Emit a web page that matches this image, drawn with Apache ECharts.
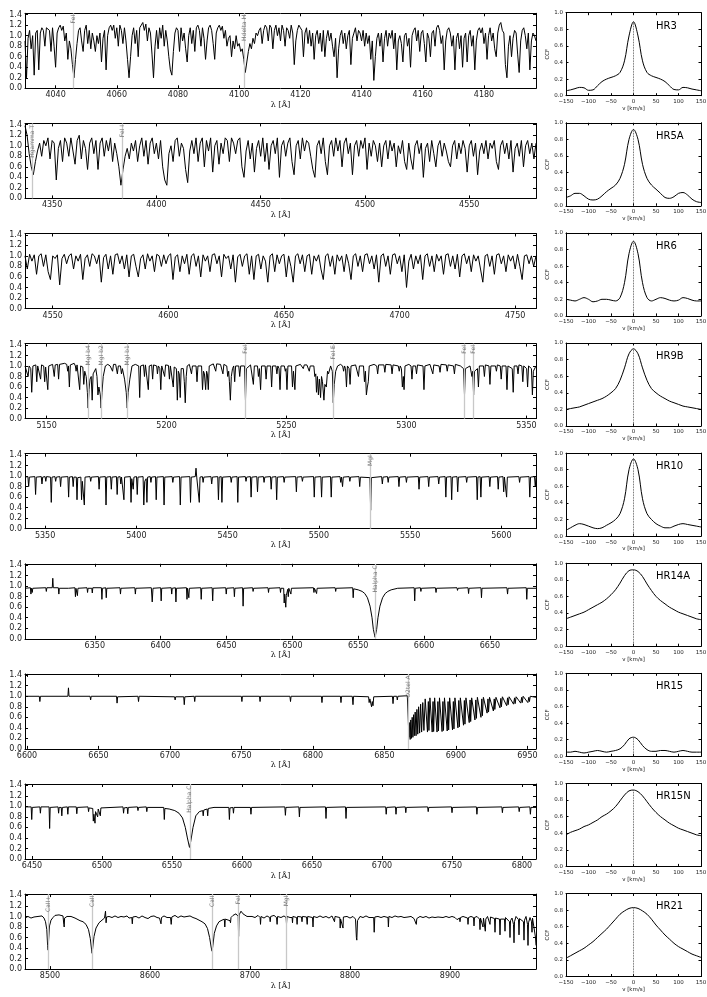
<!DOCTYPE html>
<html>
<head>
<meta charset="utf-8">
<script src="https://cdn.jsdelivr.net/npm/echarts@6/dist/echarts.min.js"></script>
<style>
html,body{margin:0;padding:0;background:#fff;}
#chart{width:707px;height:997px;}
</style>
</head>
<body>
<div id="chart"></div>
<script>
// ---------------- data ----------------
// dense spectra sampled on a regular grid (start, step, flux values)
var hr3Start = 4030, hr3Step = 0.5;
var hr3Flux = [
  0.9,0.2,0.95,1.1,0.75,1.0,0.25,1.05,1.1,0.35,1.05,1.15,1.1,0.8,1.15,1.18,1.1,0.7,1.15,0.8,
  0.4,1.05,1.15,1.2,1.1,1.18,0.9,1.05,0.55,0.9,0.75,0.45,0.2,0.55,0.85,1.1,1.15,0.9,0.7,1.1,
  1.2,0.85,1.1,0.75,1.05,0.9,0.7,1.0,0.85,1.05,0.5,0.95,1.1,0.35,1.0,1.15,1.2,1.1,1.2,0.95,
  1.15,0.8,1.2,1.1,0.85,1.15,0.9,0.55,0.2,0.6,1.0,1.15,0.85,1.1,0.6,1.15,1.2,1.25,1.1,1.22,
  0.9,1.15,1.05,0.65,0.2,0.8,1.1,0.75,1.15,0.95,1.2,0.8,1.1,0.9,0.6,0.35,0.25,0.7,1.05,1.15,
  1.1,0.7,1.15,0.9,1.05,0.75,0.5,1.0,1.15,0.85,1.1,0.7,1.15,1.2,1.1,0.8,1.15,0.95,0.55,0.9,
  1.15,1.2,1.1,0.85,0.55,1.05,1.15,1.2,1.1,1.18,0.95,1.1,0.8,0.95,1.0,0.6,0.9,0.75,1.0,0.8,
  0.85,0.7,0.75,0.55,0.3,0.5,0.7,0.85,0.75,0.95,0.85,1.05,1.0,1.1,1.15,0.85,1.1,1.2,1.15,0.9,
  1.2,1.15,0.75,1.1,1.2,1.0,1.15,0.9,1.2,1.1,0.8,1.15,1.1,0.95,1.2,1.05,0.45,0.9,1.1,1.2,
  1.15,1.1,0.6,1.05,1.15,0.85,1.1,0.8,1.05,0.55,1.0,1.1,0.85,1.05,0.7,1.1,0.6,0.95,1.1,0.9,
  1.05,0.8,0.6,0.95,0.2,0.75,1.0,1.1,0.85,1.05,0.75,1.0,1.1,0.45,0.95,1.05,1.15,0.9,1.1,1.05,
  0.9,1.1,0.8,1.05,0.85,1.0,0.55,0.9,0.15,0.6,0.95,1.05,0.8,1.05,0.5,0.95,1.1,0.8,1.05,0.95,
  1.1,0.75,1.05,0.35,0.9,1.0,0.85,0.5,1.0,1.05,0.8,0.95,0.4,1.0,1.1,1.15,0.9,1.1,0.7,1.05,
  1.1,0.85,0.5,1.05,0.95,0.6,1.05,1.1,0.8,1.15,1.2,1.1,0.85,1.0,0.35,0.9,1.1,1.15,1.05,0.8,
  1.0,0.35,0.95,1.05,0.75,1.0,0.4,0.95,1.05,0.5,1.0,1.1,0.8,1.0,0.35,0.9,1.1,1.15,1.05,1.15,
  0.85,1.05,0.55,1.0,1.15,0.9,1.05,0.75,0.6,1.05,1.2,1.25,1.1,1.05,0.45,0.2,0.8,1.0,0.6,0.95,
  1.1,1.05,0.65,0.3,0.9,1.1,1.15,1.0,0.75,1.05,0.35,0.9,1.05,1.0,0.9];

var hr5aStart = 4337, hr5aStep = 1;
var hr5aFlux = [
  1.38,1.2,0.85,0.6,0.45,0.7,0.9,1.05,0.8,1.1,  1.0,1.15,0.75,1.1,1.05,0.35,0.95,1.1,0.7,1.15,
  1.05,0.8,1.15,0.9,0.65,1.1,1.2,0.75,1.1,0.95, 0.55,1.05,1.15,0.85,1.1,0.55,1.05,1.15,0.8,1.1,
  0.9,1.15,0.7,1.05,0.85,0.6,0.25,0.55,0.8,0.95, 0.75,1.05,0.9,1.1,0.7,1.0,1.15,0.8,1.1,0.65,
  1.05,1.15,0.85,1.05,0.75,1.1,0.6,0.35,0.25,0.85, 1.0,0.7,1.1,1.15,0.8,1.05,0.95,0.55,0.3,0.9,
  1.1,0.85,1.15,0.7,1.05,1.15,0.6,1.1,0.9,1.15,  0.5,1.0,1.1,0.65,1.05,0.85,1.15,1.1,0.7,1.15,
  1.05,0.85,1.1,1.15,0.6,0.4,0.9,1.1,0.75,1.05,  0.5,0.95,1.1,0.8,1.15,0.7,1.05,0.55,1.0,1.1,
  0.85,1.15,0.4,1.0,1.1,0.8,1.05,1.15,0.7,0.45,  1.0,1.1,0.75,1.15,0.9,1.1,1.05,0.8,0.55,0.4,
  1.0,1.1,0.85,1.15,0.7,0.45,1.0,1.1,0.8,1.15,   0.9,1.1,0.6,1.05,1.15,0.85,1.05,0.45,1.0,1.1,
  0.8,1.1,0.95,1.15,0.55,1.05,0.8,1.1,1.0,0.7,   1.05,0.6,1.0,1.1,0.75,1.1,0.9,1.05,0.6,1.0,
  0.85,1.1,0.7,0.55,1.05,0.75,0.55,1.0,1.1,0.85, 1.05,0.4,0.95,1.05,0.7,1.1,0.85,0.6,1.0,1.1,
  0.8,1.05,0.9,0.7,0.6,1.0,1.1,0.75,1.05,0.85,   1.1,0.95,0.5,1.0,1.1,0.8,1.05,0.45,0.9,1.05,
  0.85,1.1,0.75,1.05,0.95,1.1,0.7,0.55,1.0,1.1,  0.85,1.05,0.75,1.1,0.5,0.95,1.05,0.8,1.1,0.6,
  1.0,1.1,0.85,1.05,0.75,1.05];

var hr6Start = 4538, hr6Step = 1;
var hr6Flux = [
  1.0,0.75,1.03,0.9,1.02,0.65,1.0,1.04,0.8,1.02,  0.7,0.55,1.0,0.95,1.02,0.45,0.95,1.03,0.85,1.0,
  1.04,0.75,1.0,0.9,1.03,0.55,0.95,1.02,0.8,1.04, 1.0,0.85,1.02,0.5,0.97,1.03,0.75,1.0,0.65,1.02,
  1.04,0.85,1.0,0.75,1.02,0.6,1.0,1.03,0.8,0.6,   0.95,1.02,0.75,1.04,0.9,1.0,0.7,1.03,1.0,0.8,
  1.02,0.85,1.0,1.04,0.55,0.98,1.02,0.7,1.0,0.85, 1.03,0.65,1.0,1.04,0.8,1.0,0.6,1.02,0.9,1.0,
  0.7,1.02,1.04,0.85,1.0,0.6,1.03,0.95,1.0,0.75,  1.02,0.5,0.98,1.03,0.8,1.0,1.04,0.65,1.0,0.55,
  1.0,1.03,0.75,1.0,0.9,0.5,1.0,1.04,0.7,1.02,    0.85,1.0,1.03,0.6,1.0,0.8,0.5,1.0,1.04,0.85,
  1.02,0.7,1.0,1.03,0.65,1.0,0.9,1.02,0.75,0.55,  1.0,1.04,0.8,1.0,0.65,1.02,0.9,1.0,0.7,1.03,
  0.85,0.55,1.0,1.04,0.8,1.0,0.7,1.02,1.04,0.85,  1.0,0.75,1.02,0.5,1.0,1.04,0.8,1.0,0.65,1.02,
  1.04,0.85,1.0,0.7,1.02,0.4,0.9,1.03,0.75,1.0,   0.85,1.02,0.55,1.0,1.04,0.8,1.0,0.7,1.03,0.9,
  1.0,0.65,1.02,1.04,0.8,1.0,0.75,1.03,0.6,1.0,   1.04,0.85,1.0,0.7,1.02,0.9,1.0,0.75,0.5,1.0,
  1.03,0.8,1.0,0.65,1.02,1.04,0.85,1.0,0.7,1.02,  0.9,1.0,0.75,1.03,0.8,0.55,1.0,1.02,0.85,1.0,
  0.8,1.0];

// sparser spectra given as [wavelength, flux] points
var hr9bFlux = [[5141,1.0],[5141.8,1.02],[5142.3,0.8],[5142.7,1.0],[5143.4,0.95],[5143.8,0.5],[5144.3,1.0],[5145.5,1.02],[5145.9,0.7],[5146.3,1.0],[5147.1,1.01],[5147.5,0.75],[5147.9,1.02],[5148.8,1.0],[5149.2,0.7],[5149.6,0.98],[5150.1,1.0],[5150.5,0.55],[5150.9,1.0],[5152.5,1.03],[5152.9,1.0],[5153.2,0.8],[5153.6,1.02],[5154.6,1.03],[5155,0.75],[5155.4,1.03],[5157.5,1.05],[5158.4,1.03],[5158.8,0.9],[5159.1,1.0],[5159.5,0.6],[5159.9,1.02],[5161.5,1.05],[5162,1.0],[5162.3,0.9],[5162.7,1.02],[5163.4,1.0],[5163.8,0.55],[5164.2,1.0],[5165.1,0.98],[5165.5,0.65],[5165.9,0.9],[5166.5,0.8],[5167.0,0.5],[5167.3,0.2],[5167.7,0.55],[5168.1,0.75],[5168.6,0.8],[5169.0,0.35],[5169.4,0.85],[5170.5,0.95],[5171.0,0.8],[5171.4,0.45],[5171.8,0.6],[5172.4,0.45],[5172.7,0.2],[5173.1,0.5],[5173.6,0.8],[5174.5,1.0],[5175.5,1.03],[5176.5,1.0],[5177.1,1.0],[5177.5,0.9],[5177.9,1.03],[5178.8,1.03],[5179.2,1.0],[5179.5,0.85],[5179.9,1.0],[5180.8,1.0],[5181.2,0.85],[5181.6,0.95],[5182.5,0.75],[5183.2,0.5],[5183.6,0.2],[5184,0.5],[5184.7,0.75],[5185.6,1.0],[5187,1.03],[5188.4,1.0],[5188.8,0.4],[5189.2,1.0],[5190.4,1.02],[5190.8,0.8],[5191.2,1.02],[5192,1.0],[5192.4,0.55],[5192.8,1.0],[5193.8,1.02],[5194.2,0.75],[5194.6,1.02],[5195.9,1.0],[5196.2,0.85],[5196.6,1.0],[5197.2,0.95],[5197.6,0.55],[5198,1.0],[5198.8,1.02],[5199.2,0.8],[5199.6,1.02],[5200.8,1.01],[5201.2,0.75],[5201.6,1.0],[5202.4,1.0],[5202.8,0.6],[5203.2,0.98],[5204.1,0.95],[5204.5,0.35],[5204.9,0.9],[5205.3,0.85],[5205.7,0.4],[5206.1,0.95],[5207.0,0.95],[5207.4,0.7],[5207.8,0.3],[5208.2,0.8],[5208.6,1.0],[5209.5,1.03],[5210.0,1.0],[5210.4,0.85],[5210.8,1.0],[5212.3,1.0],[5212.7,0.7],[5213.1,1.0],[5214.6,1.0],[5215.0,0.55],[5215.4,0.9],[5215.8,0.85],[5216.3,0.55],[5216.7,0.9],[5217.0,0.85],[5217.4,0.55],[5217.8,1.0],[5219.5,1.04],[5220.1,1.02],[5220.5,0.9],[5220.9,1.04],[5222.5,1.03],[5223.1,1.02],[5223.5,0.85],[5223.9,1.03],[5225.1,1.0],[5225.5,0.8],[5225.9,0.9],[5226.2,0.7],[5226.6,0.35],[5227,0.8],[5227.5,0.95],[5228.0,1.0],[5228.4,0.7],[5228.8,1.0],[5230.1,1.0],[5230.5,0.8],[5230.9,1.0],[5232.5,1.0],[5232.9,0.35],[5233.3,0.95],[5235,1.02],[5235.8,1.0],[5236.2,0.65],[5236.6,1.0],[5237.9,1.0],[5238.3,0.8],[5238.7,0.95],[5239.2,0.55],[5239.6,1.0],[5241.1,1.0],[5241.5,0.75],[5241.9,1.0],[5243.4,1.0],[5243.8,0.6],[5244.2,1.0],[5245.6,1.0],[5246.0,0.85],[5246.4,1.0],[5246.9,0.95],[5247.3,0.55],[5247.7,1.0],[5249.1,1.0],[5249.5,0.9],[5249.8,0.95],[5250.2,0.55],[5250.6,1.0],[5252.1,1.0],[5252.5,0.6],[5252.9,0.9],[5253.5,0.55],[5253.9,1.0],[5255.8,1.03],[5256.6,1.0],[5257,0.95],[5257.4,1.02],[5258.5,1.02],[5259.1,1.0],[5259.5,0.9],[5259.9,1.0],[5261.4,1.0],[5261.8,0.8],[5262.2,0.85],[5262.5,0.5],[5262.9,0.8],[5263.3,0.45],[5263.7,0.75],[5264.2,0.4],[5264.6,0.8],[5265,0.7],[5265.6,0.35],[5266,0.65],[5266.6,0.6],[5267.1,0.9],[5267.5,0.85],[5268.4,1.0],[5269.1,0.9],[5269.5,0.3],[5269.9,0.65],[5270.5,0.9],[5271.3,1.0],[5272.5,1.03],[5273.4,1.0],[5273.8,0.9],[5274.2,1.0],[5274.6,0.95],[5275.0,0.6],[5275.4,1.0],[5276.1,0.95],[5276.5,0.65],[5276.9,1.0],[5278.8,1.02],[5279.6,1.0],[5280,0.8],[5280.4,1.0],[5282.1,1.0],[5282.5,0.7],[5282.9,0.9],[5283.3,0.45],[5283.7,0.6],[5284.1,0.7],[5284.5,1.0],[5286.5,1.03],[5287.6,1.0],[5288,0.85],[5288.4,1.02],[5290.6,1.02],[5291,0.88],[5291.4,1.03],[5293.6,1.02],[5294,0.85],[5294.4,1.02],[5296.6,1.0],[5297,0.9],[5297.4,1.0],[5297.9,0.95],[5298.3,0.6],[5298.7,0.8],[5299,0.55],[5299.4,1.0],[5301,1.03],[5301.9,1.0],[5302.3,0.75],[5302.7,1.0],[5303.8,1.0],[5304.2,0.85],[5304.6,1.02],[5306.9,1.0],[5307.3,0.55],[5307.7,1.0],[5309.8,1.03],[5310.6,1.0],[5311,0.85],[5311.4,1.02],[5313.6,1.0],[5314,0.88],[5314.4,1.03],[5316.6,1.02],[5317,0.9],[5317.4,1.02],[5319.6,1.0],[5320,0.85],[5320.4,1.03],[5322.5,1.0],[5323.8,0.95],[5324.2,0.45],[5324.6,0.95],[5326.5,1.0],[5327.3,0.8],[5327.6,0.9],[5328.0,0.45],[5328.4,0.9],[5329.6,0.95],[5330,0.6],[5330.4,1.0],[5332.1,1.0],[5332.5,0.8],[5332.9,1.02],[5334.4,1.0],[5334.8,0.65],[5335.2,1.0],[5337.1,1.0],[5337.5,0.9],[5337.9,1.02],[5339.1,1.0],[5339.5,0.75],[5339.9,1.0],[5341.5,1.0],[5341.9,0.55],[5342.3,1.0],[5344.1,0.95],[5344.5,0.5],[5344.9,1.0],[5346.1,1.0],[5346.5,0.85],[5346.9,1.02],[5348.1,1.0],[5348.5,0.7],[5348.9,1.0],[5350.1,0.95],[5350.5,0.6],[5350.9,1.0],[5352.1,0.95],[5352.5,0.45],[5352.9,0.9],[5354,1.0]];

var hr10Flux = [[5339,0.98],[5340.6,0.99],[5341,0.8],[5341.4,0.98],[5344.4,0.99],[5344.8,0.65],[5345.2,0.98],[5347.9,0.99],[5348.3,0.85],[5348.7,0.98],[5350,0.99],[5350.4,0.9],[5350.8,0.99],[5353,0.98],[5353.4,0.5],[5353.8,0.98],[5355.4,0.99],[5355.8,0.9],[5356.2,0.98],[5358.1,0.99],[5358.5,0.8],[5358.9,0.98],[5362.5,0.99],[5362.9,0.6],[5363.3,0.98],[5365,0.99],[5365.4,0.8],[5365.8,0.98],[5367.1,0.98],[5367.5,0.55],[5367.9,0.97],[5369.6,0.98],[5370,0.55],[5370.4,0.9],[5371.1,0.9],[5371.5,0.45],[5371.9,0.98],[5374.6,0.99],[5375,0.9],[5375.4,0.98],[5379.2,0.99],[5379.6,0.75],[5380,0.98],[5383,0.99],[5383.4,0.45],[5383.8,0.98],[5385.9,0.99],[5386.3,0.75],[5386.7,0.98],[5389.1,0.99],[5389.5,0.65],[5389.9,0.98],[5391.1,0.99],[5391.5,0.85],[5391.9,0.98],[5392.8,0.99],[5393.2,0.55],[5393.6,0.98],[5396.7,0.99],[5397.1,0.5],[5397.5,0.95],[5397.9,0.97],[5398.3,0.75],[5398.7,0.98],[5400.1,0.99],[5400.5,0.65],[5400.9,0.98],[5403.7,0.99],[5404.1,0.45],[5404.6,0.9],[5405.4,0.95],[5405.8,0.5],[5406.2,0.98],[5407.6,0.99],[5408,0.88],[5408.4,0.98],[5410.5,0.99],[5410.9,0.55],[5411.3,0.98],[5414.8,0.99],[5415.2,0.45],[5415.6,0.98],[5419.6,0.99],[5420,0.88],[5420.4,0.98],[5423.7,0.99],[5424.1,0.45],[5424.5,0.98],[5429.3,0.99],[5429.7,0.5],[5430.1,0.98],[5432.3,0.99],[5432.7,1.15],[5433.1,0.98],[5434.1,0.99],[5434.5,0.5],[5434.9,0.98],[5436.2,0.99],[5436.6,0.88],[5437,0.98],[5440.9,0.99],[5441.3,0.85],[5441.7,0.98],[5444.6,0.99],[5445,0.55],[5445.4,0.98],[5446.5,0.99],[5446.9,0.5],[5447.3,0.98],[5451.6,0.99],[5452,0.88],[5452.4,0.98],[5455.2,0.99],[5455.6,0.5],[5456,0.98],[5459.7,0.99],[5460.1,0.9],[5460.5,0.98],[5462.5,0.99],[5462.9,0.6],[5463.3,0.98],[5466,0.99],[5466.4,0.7],[5466.8,0.98],[5469.6,0.99],[5470,0.88],[5470.4,0.98],[5473.5,0.99],[5473.9,0.75],[5474.3,0.98],[5476.5,0.99],[5476.9,0.55],[5477.3,0.98],[5480.6,0.99],[5481,0.88],[5481.4,0.98],[5487.3,0.99],[5487.7,0.7],[5488.1,0.98],[5490.6,0.99],[5491,0.9],[5491.4,0.98],[5497.1,0.99],[5497.5,0.6],[5497.9,0.98],[5501.1,0.99],[5501.5,0.6],[5501.9,0.98],[5506.4,0.99],[5506.8,0.6],[5507.2,0.98],[5511.6,0.99],[5512,0.88],[5512.4,0.98],[5512.6,0.99],[5513,0.8],[5513.4,0.98],[5516.6,0.99],[5517,0.9],[5517.4,0.98],[5522,0.99],[5522.4,0.8],[5522.8,0.98],[5528,0.97],[5528.4,0.35],[5528.8,0.97],[5534.4,0.99],[5534.8,0.85],[5535.2,0.98],[5537.6,0.99],[5538,0.88],[5538.4,0.98],[5543.5,0.99],[5543.9,0.8],[5544.3,0.98],[5547.6,0.99],[5548,0.88],[5548.4,0.98],[5554.5,0.99],[5554.9,0.75],[5555.3,0.98],[5559.8,0.99],[5560.2,0.8],[5560.6,0.98],[5565.3,0.99],[5565.7,0.85],[5566.1,0.98],[5569.2,0.99],[5569.6,0.6],[5570,0.98],[5572.4,0.99],[5572.8,0.55],[5573.2,0.98],[5575.7,0.99],[5576.1,0.7],[5576.5,0.98],[5580.6,0.99],[5581,0.88],[5581.4,0.98],[5586.4,0.99],[5586.8,0.55],[5587.2,0.98],[5588.4,0.99],[5588.8,0.6],[5589.2,0.98],[5593.3,0.99],[5593.7,0.8],[5594.1,0.98],[5597.9,0.99],[5598.3,0.75],[5598.7,0.98],[5600.9,0.99],[5601.3,0.7],[5601.7,0.98],[5602.5,0.99],[5602.9,0.6],[5603.3,0.98],[5609.6,0.99],[5610,0.88],[5610.4,0.98],[5615.2,0.99],[5615.6,0.6],[5616,0.98],[5618.2,0.99],[5618.6,0.8],[5619,0.98]];

var hr14aFlux = [[6297,0.96],[6301.1,0.97],[6301.5,0.85],[6301.9,0.96],[6302.5,0.88],[6302.9,0.96],[6312.8,0.97],[6313.2,0.9],[6313.6,0.97],[6317.7,0.97],[6318.1,1.15],[6318.5,0.97],[6322.3,0.97],[6322.7,0.85],[6323.1,0.96],[6330,0.96],[6334.9,0.97],[6335.3,0.8],[6335.7,0.96],[6336.5,0.97],[6336.8,0.82],[6337.2,0.96],[6344.1,0.97],[6344.5,0.88],[6344.9,0.96],[6347.7,0.96],[6348.1,0.87],[6348.5,0.97],[6355.0,0.97],[6355.4,0.75],[6355.8,0.96],[6358.3,0.97],[6358.7,0.78],[6359.1,0.96],[6369.1,0.97],[6369.5,0.85],[6369.9,0.96],[6380.4,0.97],[6380.8,0.85],[6381.2,0.96],[6392.9,0.97],[6393.6,0.7],[6394.2,0.96],[6400.0,0.97],[6400.4,0.72],[6400.8,0.96],[6408.0,0.97],[6408.4,0.85],[6408.8,0.96],[6411.2,0.97],[6411.6,0.7],[6412.0,0.96],[6419.6,0.97],[6420,0.75],[6420.4,0.96],[6421,0.97],[6421.4,0.78],[6421.8,0.96],[6430.4,0.97],[6430.8,0.75],[6431.2,0.96],[6439.1,0.97],[6439.5,0.72],[6439.9,0.96],[6449.4,0.97],[6449.8,0.85],[6450.2,0.96],[6455.6,0.97],[6456,0.8],[6456.4,0.96],[6462.2,0.97],[6462.6,0.62],[6463,0.96],[6469.8,0.97],[6470.2,0.9],[6470.6,0.96],[6481.5,0.97],[6481.9,0.88],[6482.3,0.96],[6490.6,0.97],[6491,0.88],[6491.4,0.96],[6493.4,0.96],[6493.8,0.68],[6494.2,0.85],[6494.6,0.88],[6495,0.6],[6495.4,0.82],[6496.5,0.94],[6496.9,0.8],[6497.3,0.96],[6498.5,0.97],[6498.9,0.85],[6499.3,0.96],[6516.0,0.97],[6516.4,0.88],[6516.8,0.96],[6518.0,0.97],[6518.4,0.86],[6518.8,0.96],[6532.5,0.97],[6532.9,0.9],[6533.3,0.96],[6545.8,0.97],[6546.2,0.78],[6546.6,0.95],[6550,0.93],[6553,0.9],[6555,0.86],[6557,0.78],[6559,0.62],[6560.5,0.4],[6561.5,0.18],[6562.8,0.03],[6564,0.18],[6565,0.4],[6566.5,0.62],[6568.5,0.78],[6570.5,0.86],[6572.5,0.9],[6575,0.93],[6580,0.96],[6592.5,0.97],[6592.9,0.72],[6593.3,0.96],[6597.2,0.97],[6597.6,0.9],[6598,0.96],[6608.6,0.97],[6609.1,0.88],[6609.5,0.96],[6625,0.97],[6625.4,0.92],[6625.8,0.96],[6633.4,0.97],[6633.8,0.86],[6634.2,0.96],[6643.2,0.97],[6643.6,0.78],[6644,0.96],[6662.9,0.97],[6663.4,0.85],[6663.8,0.96],[6677.6,0.97],[6678,0.75],[6678.4,0.96],[6685,0.96]];

var hr15Flux = [[6598.6,1.0],[6608.6,1.0],[6609,0.9],[6609.4,1.0],[6628.6,1.0],[6629,1.16],[6629.4,1.0],[6644.1,1.0],[6644.5,0.93],[6644.9,1.0],[6662.6,1.0],[6663,0.87],[6663.4,0.99],[6677.6,1.0],[6678,0.9],[6678.4,1.0],[6703.2,0.99],[6703.6,0.93],[6704,0.99],[6709.6,0.99],[6710,0.84],[6710.4,0.99],[6716.9,1.0],[6717.3,0.9],[6717.7,1.0],[6749.9,1.0],[6750.3,0.9],[6750.7,1.0],[6762.6,1.0],[6763,0.9],[6763.4,1.0],[6783.9,1.0],[6784.3,0.9],[6784.7,1.0],[6805.9,1.0],[6806.3,0.88],[6806.7,1.0],[6819.2,1.0],[6819.6,0.88],[6820,1.0],[6827.5,1.0],[6828,0.84],[6828.4,1.0],[6838.9,0.99],[6839.3,0.88],[6839.8,0.95],[6840.6,0.95],[6841,0.8],[6841.5,0.9],[6842,0.82],[6842.5,0.99],[6855.6,1.0],[6856,0.86],[6856.4,1.0],[6858.6,1.0],[6859,0.93],[6859.4,1.0],[6866,1.01],
  [6866.8,0.45],[6867.2,0.22],[6867.6,0.5],[6868,0.18],[6868.4,0.55],[6868.9,0.2],[6869.4,0.6],[6869.9,0.22],[6870.4,0.65],[6870.9,0.25],[6871.5,0.7],[6872.1,0.25],[6872.7,0.75],[6873.3,0.28],[6873.9,0.8],[6874.6,0.3],[6875.3,0.85],[6876,0.32],[6876.8,0.88],[6877.6,0.35],[6878.5,0.95],[6879.3,0.98],
  [6880.1,0.32],[6880.7,0.9],[6881.1,0.35],[6881.8,0.97],[6883.4,0.32],[6884,0.9],[6884.4,0.33],[6885.1,0.97],[6886.8,0.32],[6887.4,0.9],[6887.8,0.34],[6888.5,0.97],[6890.3,0.33],[6890.9,0.9],[6891.3,0.35],[6892,0.97],[6893.9,0.34],[6894.5,0.9],[6894.9,0.36],[6895.6,0.97],[6897.6,0.36],[6898.2,0.9],[6898.6,0.38],[6899.3,0.97],[6901.4,0.4],[6902,0.92],[6902.4,0.42],[6903.1,0.97],[6905.3,0.45],[6905.9,0.92],[6906.3,0.47],[6907,0.97],[6909.3,0.5],[6909.9,0.93],[6910.3,0.52],[6911,0.97],[6913.3,0.55],[6913.9,0.93],[6914.3,0.58],[6915,0.98],[6917.5,0.6],[6918.1,0.95],[6918.5,0.63],[6919.2,0.98],[6921.8,0.68],[6922.4,0.95],[6922.8,0.7],[6923.5,0.98],[6926.2,0.72],[6926.8,0.95],[6927.2,0.75],[6928,0.98],[6930.8,0.78],[6931.4,0.96],[6931.8,0.8],[6932.5,0.99],[6935.5,0.82],[6936.1,0.97],[6936.5,0.84],[6937.2,0.99],[6940.3,0.85],[6941,0.97],[6941.4,0.86],[6942.1,0.99],[6945.3,0.87],[6946,0.98],[6946.4,0.88],[6947,1.0],[6950.3,0.88],[6951,0.98],[6951.4,0.9],[6952,1.0],[6956,0.98]];

var hr15nFlux = [[6445,0.99],[6449.4,0.99],[6449.8,0.75],[6450.2,0.98],[6455.6,0.99],[6456,0.87],[6456.4,0.99],[6462.2,0.99],[6462.6,0.58],[6463,0.98],[6468.6,0.99],[6469,0.87],[6469.4,0.98],[6470.9,0.98],[6471.3,0.82],[6471.7,0.98],[6475.2,0.99],[6475.6,0.85],[6476,0.99],[6481.6,0.99],[6482,0.86],[6482.4,0.98],[6490,0.99],[6490.4,0.9],[6490.8,0.97],[6493.4,0.96],[6493.8,0.72],[6494.2,0.85],[6494.6,0.85],[6495,0.68],[6495.4,0.9],[6496.5,0.92],[6496.9,0.8],[6497.3,0.95],[6498.4,0.96],[6498.8,0.82],[6499.2,0.97],[6515,0.99],[6515.4,0.87],[6515.8,0.97],[6518,0.98],[6518.4,0.86],[6518.8,0.98],[6525.3,0.99],[6525.7,0.92],[6526.1,0.98],[6531.6,0.99],[6532,0.9],[6532.4,0.98],[6544.1,0.98],[6544.5,0.75],[6544.9,0.96],[6548,0.95],[6552,0.92],[6555,0.87],[6557.5,0.78],[6559.5,0.6],[6561,0.4],[6562.5,0.22],[6563.5,0.35],[6565,0.6],[6567,0.82],[6569.5,0.9],[6571.9,0.92],[6572.3,0.82],[6572.7,0.93],[6575.1,0.95],[6575.5,0.82],[6575.9,0.96],[6580,0.98],[6590.6,0.98],[6591,0.75],[6591.4,0.97],[6593.5,0.98],[6593.9,0.87],[6594.3,0.98],[6606,0.98],[6606.4,0.85],[6606.8,0.98],[6630.6,0.99],[6631,0.83],[6631.4,0.98],[6640.6,0.99],[6641,0.8],[6641.4,0.98],[6659.6,0.99],[6660,0.77],[6660.4,0.98],[6673.9,0.99],[6674.3,0.77],[6674.7,0.98],[6702.6,0.99],[6703,0.85],[6703.4,0.98],[6709.6,0.99],[6710,0.85],[6710.4,0.98],[6716.6,0.99],[6717,0.88],[6717.4,0.98],[6732.6,0.99],[6733,0.9],[6733.4,0.98],[6749.6,0.99],[6750,0.88],[6750.4,0.98],[6767.4,0.99],[6767.8,0.85],[6768.2,0.98],[6785.6,0.99],[6786,0.88],[6786.4,0.98],[6797.6,0.99],[6798,0.9],[6798.4,0.98],[6805.6,0.99],[6806,0.85],[6806.4,0.98],[6810,0.98]];

var hr21Flux = [[8475,0.97],[8478,1.0],[8481,0.97],[8484,0.99],[8486,0.96],[8488,1.0],[8490,0.98],[8492,1.01],[8494,0.97],[8495.5,0.9],[8496.8,0.75],[8497.6,0.45],[8498.1,0.36],[8498.6,0.55],[8499.5,0.82],[8501,0.93],[8503,0.98],[8505,1.02],[8507,0.99],[8509,1.03],[8511,1.0],[8513,1.01],[8513.8,0.85],[8514.2,0.8],[8514.6,0.97],[8517,1.0],[8519,0.98],[8521,1.0],[8523,0.97],[8525,0.97],[8527,0.95],[8530,0.92],[8533,0.9],[8536,0.85],[8538.5,0.75],[8540.3,0.58],[8541.5,0.38],[8542.1,0.3],[8542.8,0.42],[8544,0.62],[8546,0.78],[8549,0.88],[8552,0.93],[8554.5,0.97],[8555.5,1.1],[8556.1,0.88],[8556.6,0.99],[8559,1.0],[8562,0.98],[8565,1.01],[8568,0.98],[8571,1.0],[8574,0.99],[8577,1.01],[8579,0.97],[8581.8,0.98],[8582.3,0.86],[8582.8,0.99],[8586,1.0],[8589,0.97],[8592,1.01],[8595,0.98],[8598,0.96],[8601,1.0],[8604,1.01],[8607,0.98],[8609.5,0.97],[8611,0.86],[8611.5,0.98],[8614,1.01],[8617,0.98],[8620.5,0.98],[8621.2,0.85],[8621.8,0.99],[8625,1.02],[8628,0.98],[8631,1.01],[8634,0.99],[8637,1.0],[8640,1.01],[8643,0.98],[8646,0.96],[8649,0.93],[8652,0.9],[8655,0.86],[8657.5,0.77],[8659.6,0.6],[8661.3,0.4],[8662.1,0.34],[8662.9,0.45],[8664.3,0.68],[8666.5,0.82],[8669,0.9],[8672,0.93],[8674.3,0.95],[8674.8,0.8],[8675.3,0.95],[8677,0.97],[8680,0.92],[8680.5,0.88],[8681,0.98],[8683,1.02],[8686,1.05],[8688.2,1.0],[8688.6,0.62],[8689.1,1.03],[8691,1.1],[8693,1.05],[8695,1.07],[8697,1.0],[8699,1.03],[8702,1.0],[8705,0.98],[8708,1.02],[8710.1,0.98],[8710.5,0.85],[8711,1.0],[8714,0.97],[8717,1.01],[8719.7,0.98],[8720.2,0.9],[8720.7,1.0],[8724,1.02],[8726.5,0.98],[8727.1,0.85],[8727.6,1.0],[8731,0.98],[8734,1.01],[8736.1,0.98],[8736.5,0.86],[8737,1.0],[8740,0.98],[8742.1,0.98],[8742.5,0.88],[8742.9,1.0],[8746.6,0.98],[8747.1,0.85],[8747.6,1.0],[8751.5,0.99],[8752,0.9],[8752.5,1.0],[8756.5,0.99],[8757.2,0.85],[8757.7,1.0],[8762.5,0.98],[8763,0.8],[8763.5,1.0],[8767,0.98],[8770,1.01],[8773,0.98],[8776,1.0],[8779,0.97],[8782,1.01],[8784,0.98],[8784.5,0.9],[8785,1.0],[8787,0.99],[8789.8,0.98],[8790.2,0.78],[8790.6,0.95],[8792.6,0.96],[8793,0.78],[8793.4,0.99],[8797,1.0],[8800,0.97],[8803,1.0],[8805.5,0.95],[8806.4,0.6],[8806.8,0.55],[8807.5,0.92],[8810,1.0],[8813,0.98],[8816,1.01],[8819,0.98],[8823.7,0.98],[8824.2,0.7],[8824.8,0.99],[8828,1.0],[8831,0.98],[8834,1.0],[8838,0.98],[8838.4,0.8],[8838.9,1.0],[8842,0.98],[8845,1.01],[8848,0.99],[8851,1.0],[8854,0.98],[8856,0.95],[8858,0.99],[8861,1.0],[8864,0.96],[8865.8,0.95],[8866.3,0.85],[8866.8,0.96],[8870,1.0],[8873,0.98],[8876,1.0],[8879,0.97],[8882,0.99],[8885,0.98],[8888,0.99],[8890,0.96],[8893,0.98],[8896,1.0],[8899,0.98],[8902,1.0],[8905,0.98],[8907,0.94],[8909.5,0.97],[8910,0.9],[8910.5,0.98],[8913,1.0],[8915,0.97],[8917.6,0.97],[8918,0.85],[8918.5,0.98],[8921,1.0],[8923.5,0.98],[8924,0.82],[8924.5,0.98],[8927,1.0],[8929.5,0.95],[8930,0.75],[8930.5,0.97],[8932.5,0.98],[8933,0.8],[8933.5,0.97],[8934.8,0.96],[8935.3,0.72],[8935.8,0.95],[8937.5,1.0],[8939.5,0.97],[8940,0.85],[8940.5,0.99],[8942.5,1.0],[8944.5,0.96],[8945,0.7],[8945.5,0.97],[8947.5,1.0],[8949.5,0.95],[8950,0.65],[8950.5,0.95],[8952.5,0.98],[8954.5,0.95],[8955,0.72],[8955.5,0.98],[8957.5,1.0],[8959.5,0.9],[8960,0.6],[8960.5,0.92],[8962,0.97],[8963.5,0.85],[8964,0.5],[8964.5,0.9],[8966,1.0],[8968.5,0.94],[8969,0.65],[8969.5,0.96],[8971.5,0.98],[8973.5,0.9],[8974,0.55],[8974.5,0.93],[8976,1.0],[8977.5,0.85],[8978,0.45],[8978.5,0.88],[8980,0.98],[8981.5,0.9],[8982,0.7],[8982.5,0.97],[8984,1.0],[8985.5,0.6],[8986,0.45]];

// wavelength ranges and tick labels
var hr3Range = [4030, 4197],   hr3Ticks = [4040,4060,4080,4100,4120,4140,4160,4180];
var hr5aRange = [4337, 4582],  hr5aTicks = [4350,4400,4450,4500,4550];
var hr6Range = [4538, 4759],   hr6Ticks = [4550,4600,4650,4700,4750];
var hr9bRange = [5141, 5354],  hr9bTicks = [5150,5200,5250,5300,5350];
var hr10Range = [5339, 5619],  hr10Ticks = [5350,5400,5450,5500,5550,5600];
var hr14aRange = [6297, 6685], hr14aTicks = [6350,6400,6450,6500,6550,6600,6650];
var hr15Range = [6598.6, 6956],hr15Ticks = [6600,6650,6700,6750,6800,6850,6900,6950];
var hr15nRange = [6445, 6810], hr15nTicks = [6450,6500,6550,6600,6650,6700,6750,6800];
var hr21Range = [8475, 8986],  hr21Ticks = [8500,8600,8700,8800,8900];
var fluxTicks = [0,0.2,0.4,0.6,0.8,1.0,1.2,1.4];

// identified lines [wavelength, label]
var hr3Lines = [[4045.8,'FeI'],[4101.7,'Hdelta H']];
var hr5aLines = [[4340.5,'Hgamma T'],[4383.5,'FeI I']];
var hr6Lines = [];
var hr9bLines = [[5167.3,'MgI b4'],[5172.7,'MgI b2'],[5183.6,'MgI b1'],[5232.9,'FeI'],[5269.5,'FeI E'],[5324.2,'FeI'],[5328.0,'FeI']];
var hr10Lines = [[5528.4,'MgI']];
var hr14aLines = [[6562.8,'Halpha C']];
var hr15Lines = [[6866.5,'O2tel A']];
var hr15nLines = [[6562.8,'Halpha C']];
var hr21Lines = [[8498.0,'CaII+'],[8542.1,'CaII'],[8662.1,'CaII'],[8688.6,'FeI'],[8736.0,'MgI']];

// cross-correlation functions, sampled at ccfVel
var ccfVel = [-150,-140,-130,-120,-110,-100,-90,-80,-70,-60,-50,-40,-30,-20,-10,0,10,20,30,40,50,60,70,80,90,100,110,120,130,140,150];
var ccfHR3 = [0.06,0.07,0.085,0.1,0.095,0.065,0.07,0.12,0.17,0.2,0.22,0.24,0.28,0.42,0.72,0.89,0.72,0.42,0.28,0.24,0.22,0.2,0.17,0.12,0.075,0.07,0.1,0.095,0.08,0.07,0.06];
var ccfHR5A = [0.1,0.12,0.15,0.15,0.12,0.08,0.07,0.08,0.12,0.17,0.21,0.25,0.33,0.5,0.8,0.92,0.8,0.5,0.33,0.25,0.2,0.15,0.1,0.09,0.11,0.15,0.16,0.13,0.08,0.05,0.04];
var ccfHR6 = [0.2,0.19,0.18,0.2,0.22,0.2,0.17,0.18,0.2,0.2,0.19,0.18,0.22,0.4,0.75,0.9,0.75,0.4,0.22,0.18,0.2,0.22,0.21,0.19,0.18,0.19,0.22,0.21,0.19,0.18,0.18];
var ccfHR9B = [0.2,0.21,0.22,0.23,0.25,0.27,0.29,0.31,0.33,0.36,0.4,0.45,0.55,0.7,0.87,0.93,0.87,0.7,0.55,0.45,0.4,0.36,0.33,0.3,0.28,0.26,0.24,0.23,0.22,0.21,0.2];
var ccfHR10 = [0.07,0.1,0.13,0.15,0.14,0.12,0.1,0.09,0.1,0.13,0.16,0.2,0.27,0.45,0.8,0.93,0.8,0.45,0.27,0.2,0.15,0.12,0.1,0.1,0.12,0.14,0.15,0.14,0.13,0.12,0.11];
var ccfHR14A = [0.33,0.35,0.37,0.39,0.41,0.44,0.47,0.5,0.53,0.57,0.62,0.68,0.76,0.85,0.91,0.92,0.9,0.84,0.75,0.67,0.6,0.55,0.51,0.47,0.44,0.41,0.39,0.37,0.35,0.33,0.32];
var ccfHR15 = [0.05,0.05,0.06,0.05,0.04,0.05,0.06,0.07,0.06,0.05,0.06,0.07,0.09,0.14,0.21,0.23,0.2,0.13,0.08,0.06,0.06,0.07,0.07,0.06,0.05,0.06,0.07,0.06,0.05,0.05,0.05];
var ccfHR15N = [0.38,0.41,0.43,0.45,0.48,0.5,0.53,0.56,0.6,0.63,0.67,0.72,0.79,0.86,0.91,0.92,0.9,0.85,0.78,0.71,0.65,0.6,0.56,0.52,0.49,0.46,0.44,0.42,0.4,0.38,0.37];
var ccfHR21 = [0.22,0.25,0.28,0.31,0.34,0.38,0.42,0.47,0.52,0.57,0.63,0.69,0.75,0.79,0.82,0.83,0.82,0.79,0.75,0.69,0.62,0.56,0.5,0.45,0.4,0.36,0.33,0.3,0.27,0.25,0.23];
var velTicks = [-150,-100,-50,0,50,100,150];
var ccfTicks = [0,0.2,0.4,0.6,0.8,1.0];

// ---------------- build ----------------
function onGrid(start, step, values) {
  return values.map(function (f, i) { return [start + i * step, f]; });
}
function zip(xs, ys) {
  return xs.map(function (x, i) { return [x, ys[i]]; });
}

var panels = [
  {name:'HR3',   flux:onGrid(hr3Start, hr3Step, hr3Flux),   range:hr3Range,   ticks:hr3Ticks,   lines:hr3Lines,   ccf:ccfHR3},
  {name:'HR5A',  flux:onGrid(hr5aStart, hr5aStep, hr5aFlux), range:hr5aRange, ticks:hr5aTicks,  lines:hr5aLines,  ccf:ccfHR5A},
  {name:'HR6',   flux:onGrid(hr6Start, hr6Step, hr6Flux),   range:hr6Range,   ticks:hr6Ticks,   lines:hr6Lines,   ccf:ccfHR6},
  {name:'HR9B',  flux:hr9bFlux,  range:hr9bRange,  ticks:hr9bTicks,  lines:hr9bLines,  ccf:ccfHR9B},
  {name:'HR10',  flux:hr10Flux,  range:hr10Range,  ticks:hr10Ticks,  lines:hr10Lines,  ccf:ccfHR10},
  {name:'HR14A', flux:hr14aFlux, range:hr14aRange, ticks:hr14aTicks, lines:hr14aLines, ccf:ccfHR14A},
  {name:'HR15',  flux:hr15Flux,  range:hr15Range,  ticks:hr15Ticks,  lines:hr15Lines,  ccf:ccfHR15},
  {name:'HR15N', flux:hr15nFlux, range:hr15nRange, ticks:hr15nTicks, lines:hr15nLines, ccf:ccfHR15N},
  {name:'HR21',  flux:hr21Flux,  range:hr21Range,  ticks:hr21Ticks,  lines:hr21Lines,  ccf:ccfHR21}
];

var ROW_STEP = 110.1;
var FONT = 'DejaVu Sans';

function axis(gridIndex, pos, min, max, ticks, showLabel, fmt, fontSize, tickLen, name, nameGap, nameStyle) {
  return {
    type: 'value', gridIndex: gridIndex, position: pos, min: min, max: max,
    axisLine: {show: true, onZero: false, lineStyle: {color: '#000', width: 1}},
    axisTick: {show: true, inside: true, length: tickLen, customValues: ticks, lineStyle: {color: '#000', width: 1}},
    axisLabel: {show: showLabel, customValues: ticks, formatter: fmt, fontSize: fontSize, color: '#222', fontFamily: FONT, margin: 3},
    splitLine: {show: false},
    name: name || '', nameLocation: 'middle', nameGap: nameGap || 0,
    nameTextStyle: nameStyle || {}
  };
}
function plain(v) { return String(v); }
function oneDec(v) { return v.toFixed(1); }
function signed(v) { return v < 0 ? '\u2212' + Math.abs(v) : String(v); }

var grids = [], xAxes = [], yAxes = [], series = [], graphics = [];

panels.forEach(function (p, k) {
  // spectrum panel
  grids.push({left: 25, top: 13.3 + ROW_STEP * k, width: 511, height: 75, containLabel: false, outerBoundsMode: 'none'});
  var g = grids.length - 1;
  xAxes.push(axis(g, 'bottom', p.range[0], p.range[1], p.ticks, true, plain, 8, 3,
    'λ [Å]', 12.5, {fontFamily: 'DejaVu Serif', fontSize: 8, color: '#222'}));
  xAxes.push(axis(g, 'top', p.range[0], p.range[1], p.ticks, false, plain, 8, 3));
  yAxes.push(axis(g, 'left', 0, 1.425, fluxTicks, true, oneDec, 8, 3,
    'Flux', 17, {fontFamily: FONT, fontSize: 8, color: '#222'}));
  yAxes.push(axis(g, 'right', 0, 1.425, fluxTicks, false, oneDec, 8, 3));
  series.push({
    type: 'line', xAxisIndex: xAxes.length - 2, yAxisIndex: yAxes.length - 2,
    data: p.flux, showSymbol: false, silent: true, clip: true,
    lineStyle: {color: '#000', width: 1},
    markLine: {
      silent: true, symbol: 'none', animation: false,
      lineStyle: {color: '#c8c8c8', width: 1.3, type: 'solid'},
      label: {show: true, position: 'insideEnd', formatter: '{b}', fontSize: 6, color: '#777', fontFamily: FONT, distance: 1.5},
      data: p.lines.map(function (l) { return {xAxis: l[0], name: l[1]}; })
    }
  });

  // CCF panel
  grids.push({left: 566, top: 12.7 + ROW_STEP * k, width: 135, height: 83, containLabel: false, outerBoundsMode: 'none'});
  g = grids.length - 1;
  xAxes.push(axis(g, 'bottom', -150, 150, velTicks, true, signed, 5.5, 2.5,
    'v [km/s]', 8, {fontFamily: FONT, fontSize: 5.5, color: '#222'}));
  xAxes.push(axis(g, 'top', -150, 150, velTicks, false, signed, 5.5, 2.5));
  yAxes.push(axis(g, 'left', 0, 1, ccfTicks, true, oneDec, 5.5, 2.5,
    'CCF', 14, {fontFamily: FONT, fontSize: 5.5, color: '#222'}));
  yAxes.push(axis(g, 'right', 0, 1, ccfTicks, false, oneDec, 5.5, 2.5));
  var peak = Math.max.apply(null, p.ccf);
  series.push({
    type: 'line', xAxisIndex: xAxes.length - 2, yAxisIndex: yAxes.length - 2,
    data: zip(ccfVel, p.ccf), showSymbol: false, silent: true, smooth: 0.35,
    lineStyle: {color: '#000', width: 1},
    markLine: {
      silent: true, symbol: 'none', animation: false, label: {show: false},
      lineStyle: {color: '#333', width: 0.8, type: 'dotted'},
      data: [[{coord: [0, 0]}, {coord: [0, peak]}]]
    }
  });

  graphics.push({
    type: 'text', left: 656, top: 21 + ROW_STEP * k,
    style: {text: p.name, fontSize: 10, fontFamily: FONT, fill: '#000'}
  });
});

var chart = echarts.init(document.getElementById('chart'), null, {renderer: 'canvas'});
chart.setOption({
  animation: false,
  backgroundColor: '#fff',
  textStyle: {fontFamily: FONT},
  grid: grids,
  xAxis: xAxes,
  yAxis: yAxes,
  series: series,
  graphic: graphics
});
</script>
</body>
</html>
